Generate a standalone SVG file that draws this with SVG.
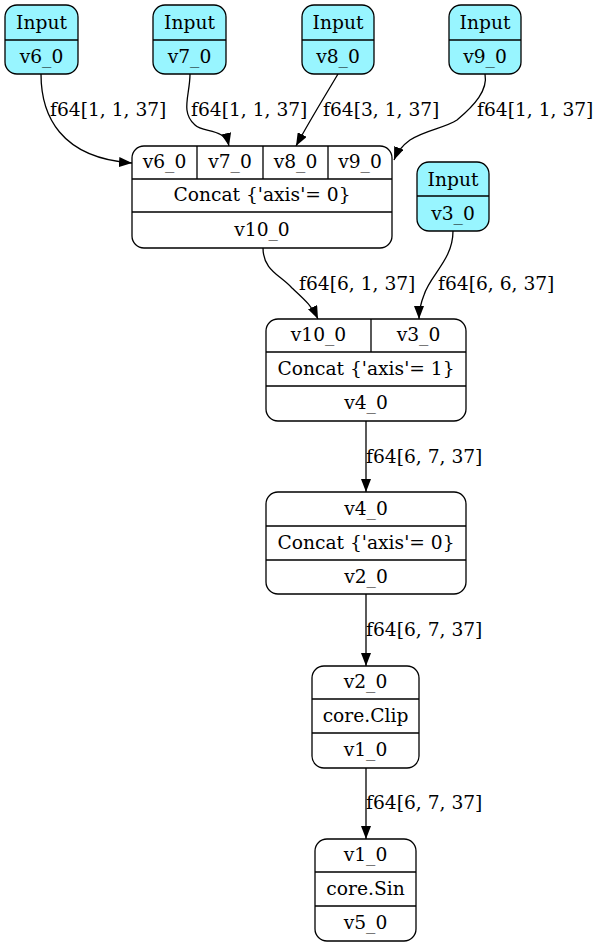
<svg xmlns="http://www.w3.org/2000/svg" width="599" height="947" viewBox="0 0 599 947">
<defs>
<style>
text{font-family:"DejaVu Serif","Liberation Serif",serif;font-size:18.67px;fill:#000}
.c{text-anchor:middle}
.b{fill:#fff;stroke:#000;stroke-width:1.3}
.i{fill:#98f5ff;stroke:#000;stroke-width:1.3}
.l{stroke:#000;stroke-width:1.3;fill:none}
.e{stroke:#000;stroke-width:1.3;fill:none;marker-end:url(#a)}
</style>
<marker id="a" markerWidth="13" markerHeight="10" refX="13" refY="5" orient="auto" markerUnits="userSpaceOnUse">
<path d="M0,0 L13,5 L0,10 z" fill="#000"/>
</marker>
</defs>
<rect width="599" height="947" fill="#fff"/>
<g id="edges">
<path class="e" d="M41,74 C41,115 60,158 132,163"/>
<path class="e" d="M190,74 C190,95 180,112 195,125 C203,133 225,128 229,146"/>
<path class="e" d="M338,74 C325,96 310,120 296,146"/>
<path class="e" d="M485,74 C488,90 475,105 457,120 C445,128 425,130 410,140 C403,145 398,150 394,160"/>
<path class="e" d="M263,248 C263,270 280,275 292,288 C305,300 312,306 318,319"/>
<path class="e" d="M453,231 C453,260 430,275 424,295 C420,305 419,310 419,319"/>
<path class="e" d="M366,421 L366,492"/>
<path class="e" d="M366,594 L366,666"/>
<path class="e" d="M366,768 L366,839"/>
<text x="50" y="116">f64[1, 1, 37]</text>
<text x="191" y="116">f64[1, 1, 37]</text>
<text x="323" y="116">f64[3, 1, 37]</text>
<text x="477" y="116">f64[1, 1, 37]</text>
<text x="299" y="290">f64[6, 1, 37]</text>
<text x="438" y="290">f64[6, 6, 37]</text>
<text x="366" y="463">f64[6, 7, 37]</text>
<text x="366" y="636">f64[6, 7, 37]</text>
<text x="366" y="809">f64[6, 7, 37]</text>
</g>
<g id="in_v6">
<rect class="i" x="5" y="5" width="73" height="69" rx="12"/>
<path class="l" d="M5,40 H78"/>
<text class="c" x="41.5" y="29">Input</text>
<text class="c" x="41.5" y="63">v6_0</text>
</g>
<g id="in_v7">
<rect class="i" x="153" y="5" width="73" height="69" rx="12"/>
<path class="l" d="M153,40 H226"/>
<text class="c" x="189.5" y="29">Input</text>
<text class="c" x="189.5" y="63">v7_0</text>
</g>
<g id="in_v8">
<rect class="i" x="302" y="5" width="72" height="69" rx="12"/>
<path class="l" d="M302,40 H374"/>
<text class="c" x="338" y="29">Input</text>
<text class="c" x="338" y="63">v8_0</text>
</g>
<g id="in_v9">
<rect class="i" x="449" y="5" width="72" height="69" rx="12"/>
<path class="l" d="M449,40 H521"/>
<text class="c" x="485" y="29">Input</text>
<text class="c" x="485" y="63">v9_0</text>
</g>
<g id="in_v3">
<rect class="i" x="417" y="162" width="72" height="69" rx="12"/>
<path class="l" d="M417,196 H489"/>
<text class="c" x="453" y="186">Input</text>
<text class="c" x="453" y="220">v3_0</text>
</g>
<g id="concat1">
<rect class="b" x="132" y="146" width="260" height="102" rx="12"/>
<path class="l" d="M132,179 H392 M132,212 H392 M197,146 V179 M263,146 V179 M328,146 V179"/>
<text class="c" x="164.5" y="168">v6_0</text>
<text class="c" x="230" y="168">v7_0</text>
<text class="c" x="295.5" y="168">v8_0</text>
<text class="c" x="360" y="168">v9_0</text>
<text class="c" x="262" y="201">Concat {'axis'= 0}</text>
<text class="c" x="262" y="236">v10_0</text>
</g>
<g id="concat2">
<rect class="b" x="266" y="319" width="200" height="102" rx="12"/>
<path class="l" d="M266,352 H466 M266,386 H466 M371,319 V352"/>
<text class="c" x="318.5" y="341">v10_0</text>
<text class="c" x="418.5" y="341">v3_0</text>
<text class="c" x="366" y="375">Concat {'axis'= 1}</text>
<text class="c" x="366" y="409">v4_0</text>
</g>
<g id="concat3">
<rect class="b" x="266" y="492" width="200" height="102" rx="12"/>
<path class="l" d="M266,526 H466 M266,560 H466"/>
<text class="c" x="366" y="515">v4_0</text>
<text class="c" x="366" y="549">Concat {'axis'= 0}</text>
<text class="c" x="366" y="583">v2_0</text>
</g>
<g id="clip">
<rect class="b" x="312" y="666" width="107" height="102" rx="12"/>
<path class="l" d="M312,699 H419 M312,733 H419"/>
<text class="c" x="365.5" y="688">v2_0</text>
<text class="c" x="365.5" y="722">core.Clip</text>
<text class="c" x="365.5" y="756">v1_0</text>
</g>
<g id="sin">
<rect class="b" x="315" y="839" width="101" height="102" rx="12"/>
<path class="l" d="M315,872 H416 M315,906 H416"/>
<text class="c" x="365.5" y="861">v1_0</text>
<text class="c" x="365.5" y="895">core.Sin</text>
<text class="c" x="365.5" y="929">v5_0</text>
</g>
</svg>
